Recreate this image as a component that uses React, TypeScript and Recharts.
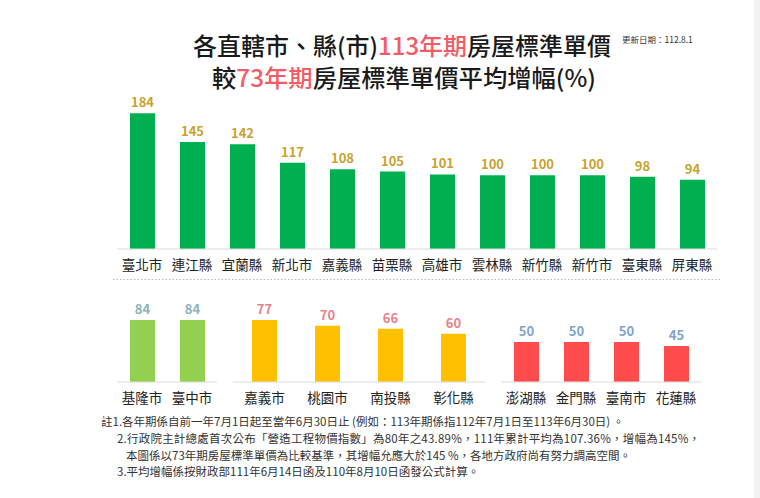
import React from 'react';
import { BarChart, Bar, XAxis, YAxis, LabelList } from 'recharts';

// 113年期 vs 73年期 average increase (%)
const topCities = ['臺北市', '連江縣', '宜蘭縣', '新北市', '嘉義縣', '苗栗縣', '高雄市', '雲林縣', '新竹縣', '新竹市', '臺東縣', '屏東縣'];
const topValues = [184, 145, 142, 117, 108, 105, 101, 100, 100, 100, 98, 94];

const group1Cities = ['基隆市', '臺中市'];
const group1Values = [84, 84];

const group2Cities = ['嘉義市', '桃園市', '南投縣', '彰化縣'];
const group2Values = [77, 70, 66, 60];

const group3Cities = ['澎湖縣', '金門縣', '臺南市', '花蓮縣'];
const group3Values = [50, 50, 50, 45];

const titleLine1 = ['各直轄市、縣(市)', '113年期', '房屋標準單價'];
const titleLine2 = ['較', '73年期', '房屋標準單價平均增幅(%)'];
const updateDate = '更新日期：112.8.1';
const notes = [
  '註1.各年期係自前一年7月1日起至當年6月30日止 (例如：113年期係指112年7月1日至113年6月30日) 。',
  '2.行政院主計總處首次公布「營造工程物價指數」為80年之43.89%，111年累計平均為107.36%，增幅為145%，',
  '本圖係以73年期房屋標準單價為比較基準，其增幅允應大於145 %，各地方政府尚有努力調高空間。',
  '3.平均增幅係按財政部111年6月14日函及110年8月10日函發公式計算。',
];

const FONT = '"Noto Sans CJK TC", "Noto Sans", sans-serif';
const BASE_Y = 382;

const toRows = (names: string[], values: number[]) => names.map((name, i) => ({ name, value: values[i] }));

type GroupProps = {
  rows: { name: string; value: number }[];
  left: number;
  right: number;
  baseline: number;
  plotHeight: number;
  max: number;
  fill: string;
  labelColor: string;
};

const Group = ({ rows, left, right, baseline, plotHeight, max, fill, labelColor }: GroupProps) => (
  <div style={{ position: 'absolute', left: 0, top: 0 }}>
    <BarChart
      width={760}
      height={baseline + 30}
      data={rows}
      margin={{ top: baseline - plotHeight, right: 760 - right, left, bottom: 0 }}
    >
      <XAxis
        dataKey="name"
        interval={0}
        tickLine={false}
        axisLine={{ stroke: '#dcdcdc' }}
        tick={{ fill: '#222', fontSize: 13.5, fontFamily: FONT }}
        tickMargin={5}
        height={30}
      />
      <YAxis hide domain={[0, max]} />
      <Bar dataKey="value" fill={fill} barSize={25} isAnimationActive={false}>
        <LabelList
          dataKey="value"
          position="top"
          offset={6}
          fill={labelColor}
          fontSize={13}
          fontWeight="bold"
          fontFamily={FONT}
        />
      </Bar>
    </BarChart>
  </div>
);

const App = () => {
  return (
    <div style={{ position: 'absolute', left: 0, top: 0, width: 760, height: 498, background: '#fff', overflow: 'hidden' }}>
      <Group rows={toRows(topCities, topValues)} left={117} right={717} baseline={249} plotHeight={147.6} max={200} fill="#00B050" labelColor="#C9A22E" />
      <Group rows={toRows(group1Cities, group1Values)} left={117} right={217} baseline={BASE_Y} plotHeight={73.8} max={100} fill="#92D050" labelColor="#8DB2BA" />
      <Group rows={toRows(group2Cities, group2Values)} left={233} right={485} baseline={BASE_Y} plotHeight={80.5} max={100} fill="#FFC000" labelColor="#E8828A" />
      <Group rows={toRows(group3Cities, group3Values)} left={501} right={701} baseline={BASE_Y} plotHeight={80} max={100} fill="#FF4B4B" labelColor="#7DA5CB" />

      <svg width={760} height={498} style={{ position: 'absolute', left: 0, top: 0, pointerEvents: 'none' }} fontFamily={FONT}>
        <text x={193} y={55} fontSize={23.5} fontWeight={500} fill="#1a1a1a" textLength={418} lengthAdjust="spacingAndGlyphs">
          <tspan>{titleLine1[0]}</tspan>
          <tspan fill="#F25C66">{titleLine1[1]}</tspan>
          <tspan>{titleLine1[2]}</tspan>
        </text>
        <text x={212} y={87} fontSize={23.5} fontWeight={500} fill="#1a1a1a" textLength={384} lengthAdjust="spacingAndGlyphs">
          <tspan>{titleLine2[0]}</tspan>
          <tspan fill="#F25C66">{titleLine2[1]}</tspan>
          <tspan>{titleLine2[2]}</tspan>
        </text>
        <text x={622} y={43} fontSize={8.5} fill="#333">{updateDate}</text>

        <line x1={113} y1={279.5} x2={722} y2={279.5} stroke="#b8b8b8" strokeDasharray="1.5 2" />

        <text x={101} y={426} fontSize={11.5} fill="#333">{notes[0]}</text>
        <text x={117} y={443} fontSize={11.5} fill="#333" textLength={583}>{notes[1]}</text>
        <text x={126} y={460} fontSize={11.5} fill="#333">{notes[2]}</text>
        <text x={117} y={476} fontSize={11.5} fill="#333">{notes[3]}</text>

        <rect x={754} y={0} width={6} height={498} fill="#f2f2f2" />
      </svg>
    </div>
  );
};

export default App;
